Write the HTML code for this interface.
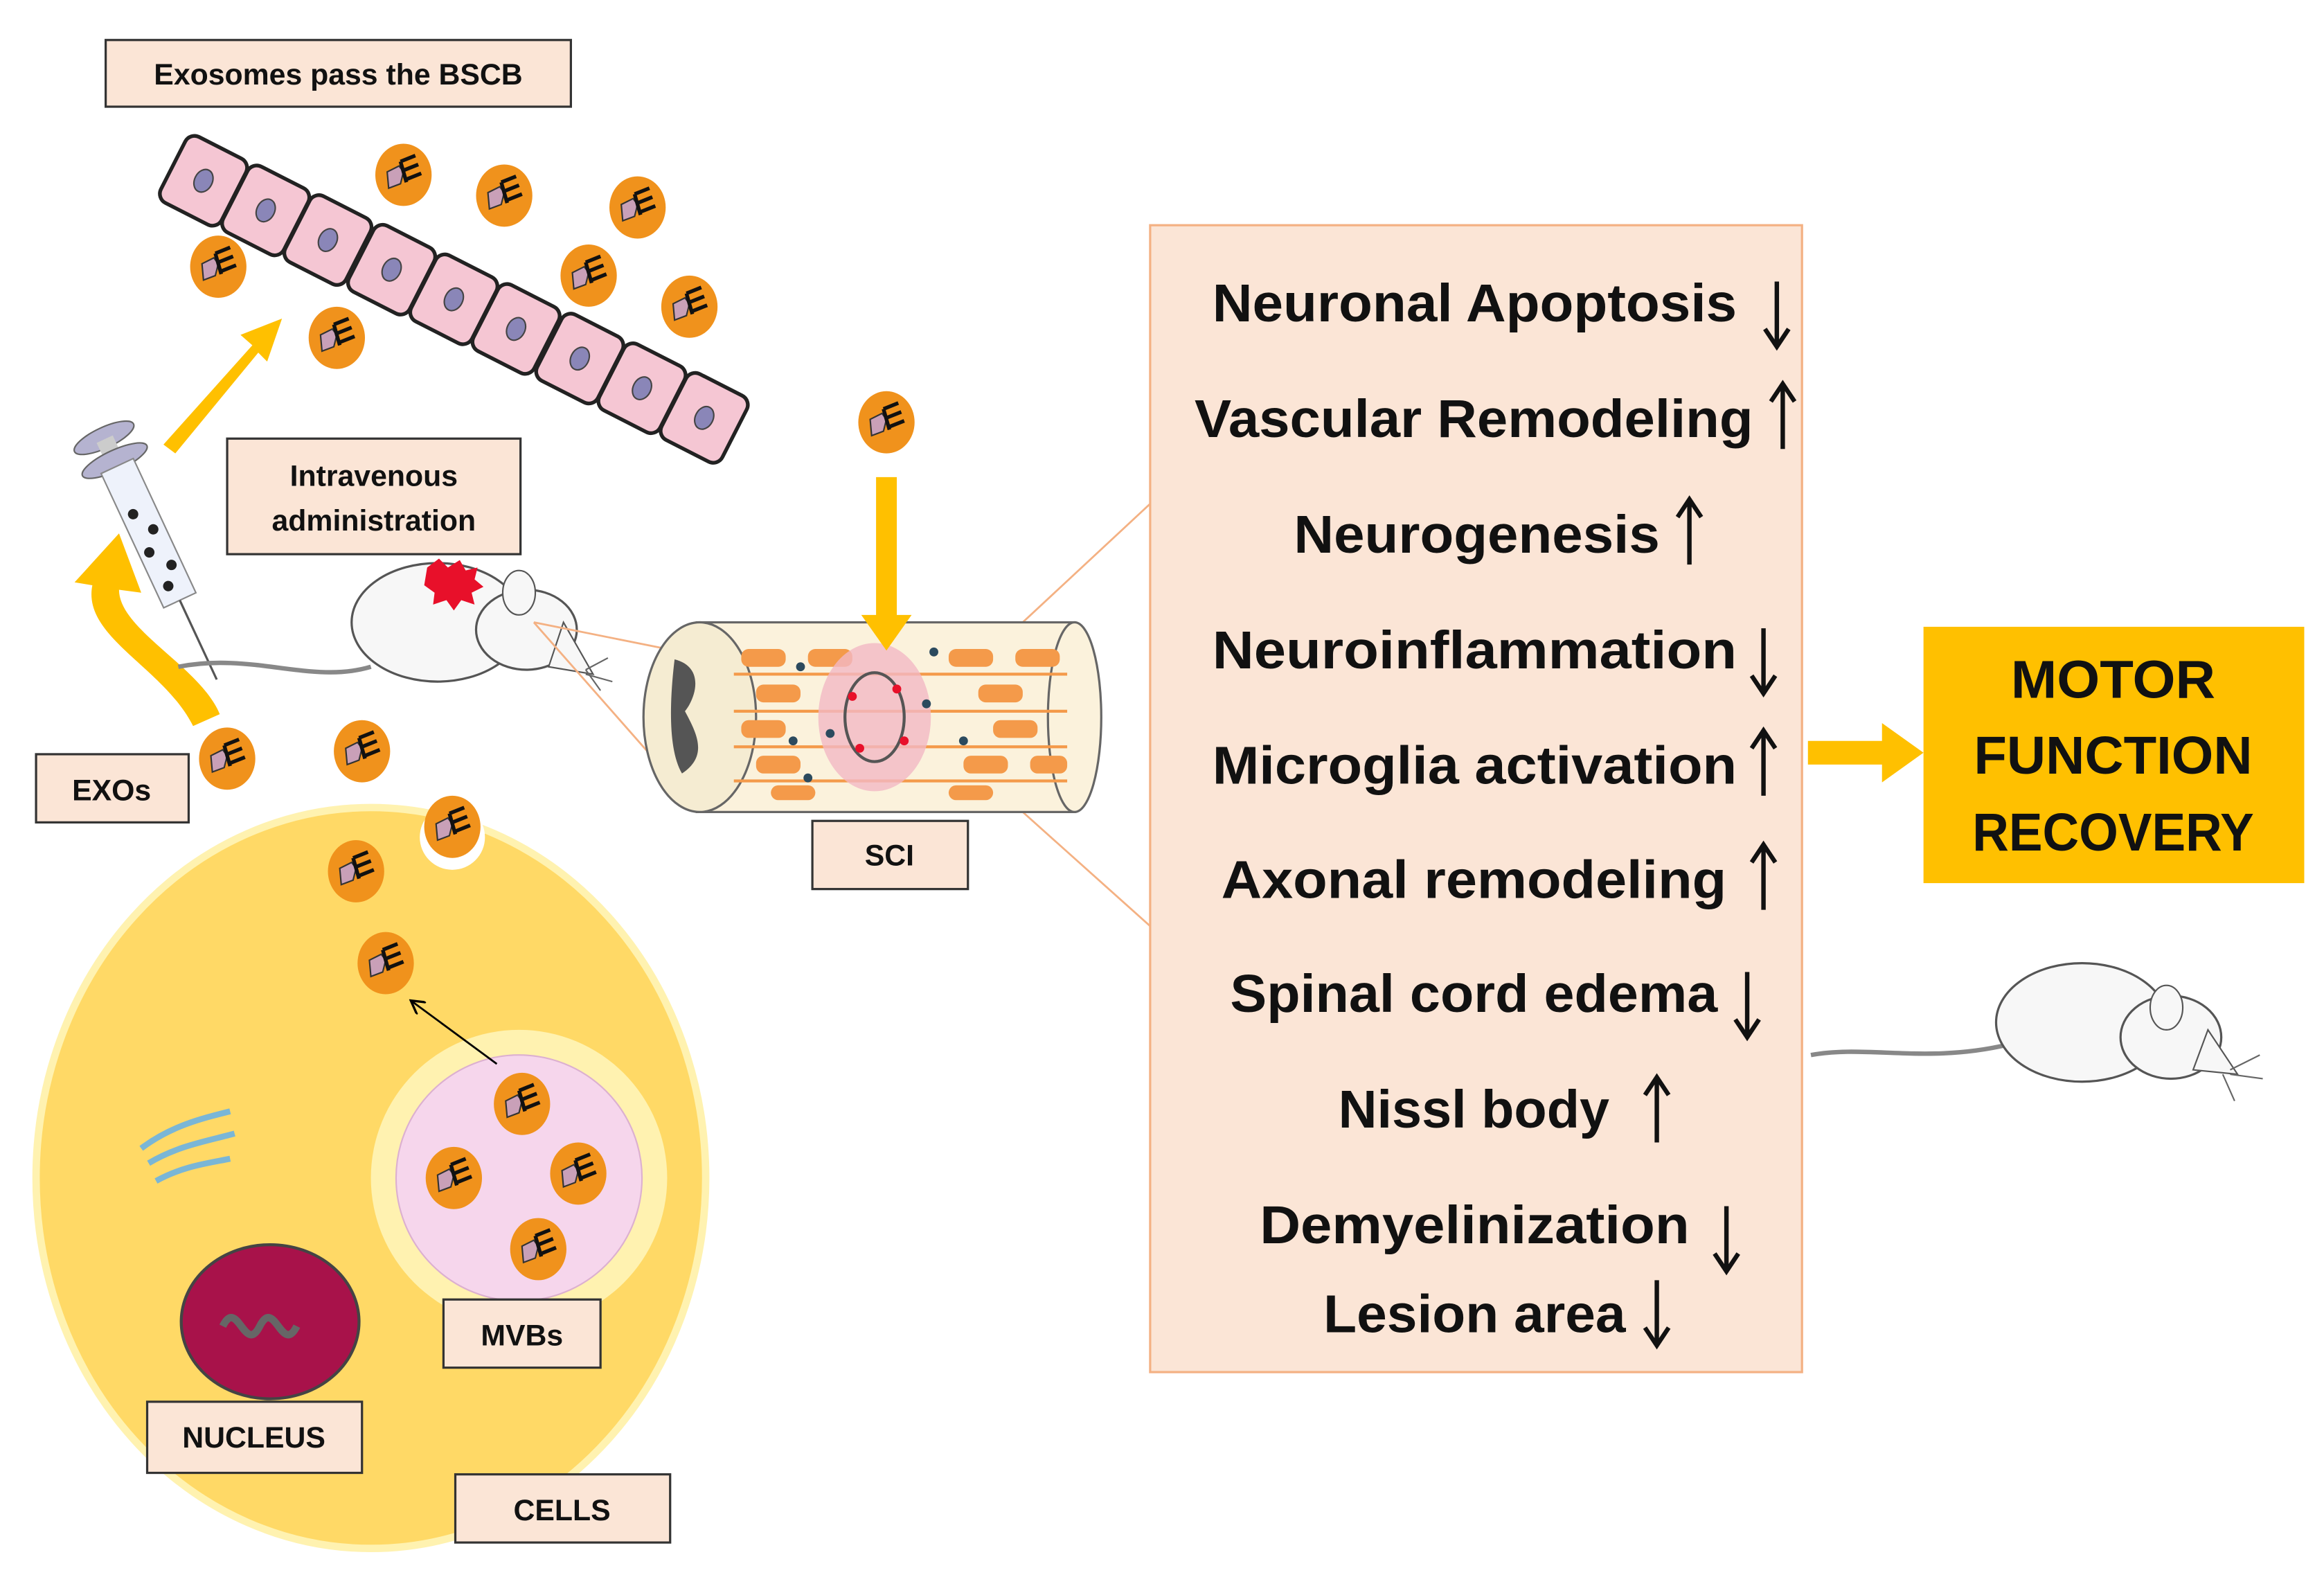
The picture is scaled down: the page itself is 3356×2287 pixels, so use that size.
<!DOCTYPE html>
<html><head><meta charset="utf-8"><style>html,body{margin:0;padding:0;background:#fff}svg{display:block}</style></head>
<body>
<svg width="3356" height="2287" viewBox="0 0 1568 1069" xmlns="http://www.w3.org/2000/svg" font-family="Liberation Sans, sans-serif">
<defs>
<g id="exo">
<ellipse cx="0" cy="0" rx="19" ry="21" fill="#f0921c"/>
<path d="M-11 -2 l8 -4 l3 4 l-2 8 l-8 3 z" fill="#c9a0b8" stroke="#333" stroke-width="1"/>
<path d="M-2 -9 l10 -4 M0 -3 l10 -4 M2 3 l10 -4 M-2 -9 l4 14" stroke="#111" stroke-width="2.5" fill="none"/>
</g>
<g id="bc"><rect x="-23" y="-25" width="46" height="50" rx="7" fill="#f5c6d3" stroke="#222" stroke-width="2.5"/><ellipse cx="0" cy="0" rx="6" ry="8" fill="#8a86b8" stroke="#444"/></g>
<marker id="ah" markerWidth="8" markerHeight="8" refX="6" refY="4" orient="auto"><path d="M0 0 L7 4 L0 8" fill="none" stroke="#000" stroke-width="1.2"/></marker>
</defs>
<g fill="#fbe5d6" stroke="#333" stroke-width="1.5">
<rect x="71" y="27" width="314" height="45"/>
<rect x="153" y="296" width="198" height="78"/>
<rect x="24" y="509" width="103" height="46"/>
<rect x="548" y="554" width="105" height="46"/>
</g>
<g font-weight="bold" font-size="20" text-anchor="middle" fill="#111">
<text x="228" y="57">Exosomes pass the BSCB</text>
<text x="252" y="328">Intravenous</text>
<text x="252" y="358">administration</text>
<text x="75" y="540">EXOs</text>
<text x="600" y="584">SCI</text>
</g>
<g>
<use href="#bc" transform="translate(137,122) rotate(27)"/>
<use href="#bc" transform="translate(179,142) rotate(27)"/>
<use href="#bc" transform="translate(221,162) rotate(27)"/>
<use href="#bc" transform="translate(264,182) rotate(27)"/>
<use href="#bc" transform="translate(306,202) rotate(27)"/>
<use href="#bc" transform="translate(348,222) rotate(27)"/>
<use href="#bc" transform="translate(391,242) rotate(27)"/>
<use href="#bc" transform="translate(433,262) rotate(27)"/>
<use href="#bc" transform="translate(475,282) rotate(27)"/>
</g>
<use href="#exo" x="272" y="118"/><use href="#exo" x="340" y="132"/><use href="#exo" x="430" y="140"/>
<use href="#exo" x="147" y="180"/><use href="#exo" x="397" y="186"/><use href="#exo" x="465" y="207"/>
<use href="#exo" x="227" y="228"/><use href="#exo" x="598" y="285"/>
<g fill="#ffc000">
<path d="M110 300 L170 233 L162 226 L190 215 L180 244 L174 238 L118 306 z"/>
<path d="M130 490 C110 450 55 430 62 395 L50 393 L80 360 L95 400 L80 398 C80 425 135 450 148 482 z"/>
<path d="M1220 500 h50 v-12 l28 20 l-28 20 v-12 h-50 z"/>
</g>
<g transform="translate(72,300) rotate(-25)">
<ellipse cx="0" cy="-5" rx="22" ry="7" fill="#b5b3d0" stroke="#666"/>
<rect x="-6" y="-4" width="12" height="14" fill="#ccc"/>
<ellipse cx="0" cy="12" rx="24" ry="7" fill="#b5b3d0" stroke="#666"/>
<rect x="-12" y="16" width="24" height="100" fill="#eef2fb" stroke="#888"/>
<circle cx="-4" cy="50" r="3.5" fill="#222"/><circle cx="4" cy="65" r="3.5" fill="#222"/><circle cx="-5" cy="78" r="3.5" fill="#222"/><circle cx="5" cy="92" r="3.5" fill="#222"/><circle cx="-3" cy="104" r="3.5" fill="#222"/>
<line x1="0" y1="116" x2="0" y2="175" stroke="#555" stroke-width="1.5"/>
</g>
<g>
<path d="M120 450 C170 440 210 462 250 450" fill="none" stroke="#888" stroke-width="3"/>
<ellipse cx="295" cy="420" rx="58" ry="40" fill="#f7f7f7" stroke="#555" stroke-width="1.5"/>
<ellipse cx="355" cy="425" rx="34" ry="27" fill="#f7f7f7" stroke="#555" stroke-width="1.5"/>
<path d="M380 420 L400 455 L370 450 z" fill="#f7f7f7" stroke="#555"/>
<ellipse cx="350" cy="400" rx="11" ry="15" fill="#f7f7f7" stroke="#555"/>
<path d="M288 383 l8 -6 l6 6 l8 -5 l4 7 l8 -2 l-2 8 l6 5 l-8 4 l2 8 l-9 -3 l-5 7 l-5 -7 l-9 3 l1 -8 l-7 -5 z" fill="#e8102a"/>
<path d="M395 452 l15 -8 M395 455 l18 5 M395 452 l10 14" stroke="#666"/>
</g>
<g stroke="#f4b183" stroke-width="1.3" fill="none">
<line x1="360" y1="420" x2="460" y2="440"/><line x1="360" y1="420" x2="448" y2="520"/>
<line x1="690" y1="420" x2="776" y2="340"/><line x1="690" y1="548" x2="776" y2="625"/>
</g>
<g>
<rect x="470" y="420" width="255" height="128" fill="#fbf2dc" stroke="#666" stroke-width="1.5"/>
<ellipse cx="725" cy="484" rx="18" ry="64" fill="#fbf2dc" stroke="#666" stroke-width="1.5"/>
<ellipse cx="472" cy="484" rx="38" ry="64" fill="#f5ecd2" stroke="#666" stroke-width="1.5"/>
<path d="M455 445 C475 450 470 470 462 480 C470 495 478 510 460 522 C450 505 452 470 455 445 z" fill="#555"/>
<g fill="#f49a4a">
<rect x="500" y="438" width="30" height="12" rx="5"/><rect x="545" y="438" width="30" height="12" rx="5"/><rect x="640" y="438" width="30" height="12" rx="5"/><rect x="685" y="438" width="30" height="12" rx="5"/>
<rect x="510" y="462" width="30" height="12" rx="5"/><rect x="660" y="462" width="30" height="12" rx="5"/>
<rect x="500" y="486" width="30" height="12" rx="5"/><rect x="670" y="486" width="30" height="12" rx="5"/>
<rect x="510" y="510" width="30" height="12" rx="5"/><rect x="650" y="510" width="30" height="12" rx="5"/><rect x="695" y="510" width="25" height="12" rx="5"/>
<rect x="520" y="530" width="30" height="10" rx="5"/><rect x="640" y="530" width="30" height="10" rx="5"/>
</g>
<g stroke="#f49a4a" stroke-width="2"><line x1="495" y1="455" x2="720" y2="455"/><line x1="495" y1="480" x2="720" y2="480"/><line x1="495" y1="504" x2="720" y2="504"/><line x1="495" y1="527" x2="720" y2="527"/></g>
<ellipse cx="590" cy="484" rx="38" ry="50" fill="#f2b8c4" opacity="0.8"/>
<ellipse cx="590" cy="484" rx="20" ry="30" fill="none" stroke="#555" stroke-width="2"/>
<g fill="#e8102a"><circle cx="575" cy="470" r="3"/><circle cx="605" cy="465" r="3"/><circle cx="580" cy="505" r="3"/><circle cx="610" cy="500" r="3"/></g>
<g fill="#2b4a5e"><circle cx="540" cy="450" r="3"/><circle cx="560" cy="495" r="3"/><circle cx="625" cy="475" r="3"/><circle cx="650" cy="500" r="3"/><circle cx="535" cy="500" r="3"/><circle cx="630" cy="440" r="3"/><circle cx="545" cy="525" r="3"/></g>
</g>
<path d="M591 322 h14 v93 h10 l-17 24 l-17 -24 h10 z" fill="#ffc000"/>
<ellipse cx="250" cy="795" rx="226" ry="250" fill="#ffd966" stroke="#fff2b0" stroke-width="5"/>
<circle cx="305" cy="565" r="22" fill="#fff"/>
<use href="#exo" x="305" y="558"/>
<use href="#exo" x="240" y="588"/><use href="#exo" x="260" y="650"/>
<use href="#exo" x="153" y="512"/><use href="#exo" x="244" y="507"/>
<circle cx="350" cy="795" r="100" fill="#fff2b0"/>
<circle cx="350" cy="795" r="83" fill="#f6d6ec" stroke="#dcb0d0"/>
<use href="#exo" x="352" y="745"/><use href="#exo" x="306" y="795"/><use href="#exo" x="390" y="792"/><use href="#exo" x="363" y="843"/>
<line x1="335" y1="718" x2="278" y2="676" stroke="#000" stroke-width="1.3" marker-end="url(#ah)"/>
<ellipse cx="182" cy="892" rx="60" ry="52" fill="#a8124a" stroke="#444" stroke-width="2"/>
<path d="M150 895 c10 -20 15 20 25 0 c10 -20 15 20 25 0" fill="none" stroke="#666" stroke-width="5"/>
<path d="M95 775 c20 -15 40 -20 60 -25 M100 785 c20 -12 40 -15 58 -20 M105 797 c18 -10 35 -12 50 -15" fill="none" stroke="#7ab6d6" stroke-width="4"/>
<g fill="#fbe5d6" stroke="#333" stroke-width="1.5">
<rect x="299" y="877" width="106" height="46"/>
<rect x="99" y="946" width="145" height="48"/>
<rect x="307" y="995" width="145" height="46"/>
</g>
<g font-weight="bold" font-size="20" text-anchor="middle" fill="#111">
<text x="352" y="908">MVBs</text><text x="171" y="977">NUCLEUS</text><text x="379" y="1026">CELLS</text>
</g>
<rect x="776" y="152" width="440" height="774" fill="#fbe5d6" stroke="#f4b183" stroke-width="1.5"/>
<g font-weight="bold" font-size="36" fill="#111">
<text x="818" y="217" textLength="354" lengthAdjust="spacingAndGlyphs">Neuronal Apoptosis</text>
<text x="806" y="295" textLength="377" lengthAdjust="spacingAndGlyphs">Vascular Remodeling</text>
<text x="873" y="373" textLength="247" lengthAdjust="spacingAndGlyphs">Neurogenesis</text>
<text x="818" y="451" textLength="354" lengthAdjust="spacingAndGlyphs">Neuroinflammation</text>
<text x="818" y="529" textLength="354" lengthAdjust="spacingAndGlyphs">Microglia activation</text>
<text x="824" y="606" textLength="341" lengthAdjust="spacingAndGlyphs">Axonal remodeling</text>
<text x="830" y="683" textLength="329" lengthAdjust="spacingAndGlyphs">Spinal cord edema</text>
<text x="903" y="761" textLength="183" lengthAdjust="spacingAndGlyphs">Nissl body</text>
<text x="850" y="839" textLength="290" lengthAdjust="spacingAndGlyphs">Demyelinization</text>
<text x="893" y="899" textLength="204" lengthAdjust="spacingAndGlyphs">Lesion area</text>
</g>
<g stroke="#111" stroke-width="3" fill="none">
<path d="M1199 190 v42 M1191 222 l8 12 l8 -12"/>
<path d="M1203 303 v-42 M1195 271 l8 -12 l8 12"/>
<path d="M1140 381 v-42 M1132 349 l8 -12 l8 12"/>
<path d="M1190 424 v42 M1182 456 l8 12 l8 -12"/>
<path d="M1190 537 v-42 M1182 505 l8 -12 l8 12"/>
<path d="M1190 614 v-42 M1182 582 l8 -12 l8 12"/>
<path d="M1179 656 v42 M1171 688 l8 12 l8 -12"/>
<path d="M1118 771 v-42 M1110 739 l8 -12 l8 12"/>
<path d="M1165 814 v42 M1157 846 l8 12 l8 -12"/>
<path d="M1118 864 v42 M1110 896 l8 12 l8 -12"/>
</g>
<rect x="1298" y="423" width="257" height="173" fill="#ffc000"/>
<g font-weight="bold" font-size="36" text-anchor="middle" fill="#111">
<text x="1426" y="471" textLength="138" lengthAdjust="spacingAndGlyphs">MOTOR</text>
<text x="1426" y="522" textLength="188" lengthAdjust="spacingAndGlyphs">FUNCTION</text>
<text x="1426" y="574" textLength="190" lengthAdjust="spacingAndGlyphs">RECOVERY</text>
</g>
<g>
<path d="M1222 712 C1260 705 1300 718 1355 705" fill="none" stroke="#888" stroke-width="3"/>
<ellipse cx="1405" cy="690" rx="58" ry="40" fill="#f7f7f7" stroke="#555" stroke-width="1.5"/>
<ellipse cx="1465" cy="700" rx="34" ry="28" fill="#f7f7f7" stroke="#555" stroke-width="1.5"/>
<path d="M1490 695 L1510 725 L1480 722 z" fill="#f7f7f7" stroke="#555"/>
<ellipse cx="1462" cy="680" rx="11" ry="15" fill="#f7f7f7" stroke="#555"/>
<path d="M1505 722 l20 -10 M1505 725 l22 3 M1500 725 l8 18" stroke="#666"/>
</g>
</svg>
</body></html>
